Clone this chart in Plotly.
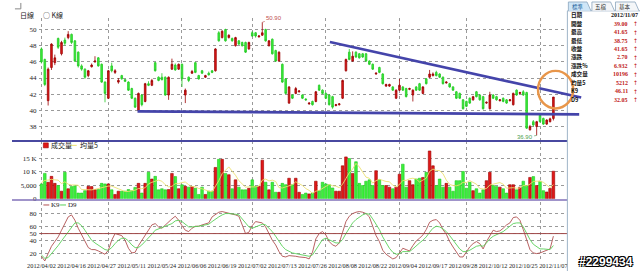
import plotly.graph_objects as go

W, H = 640, 275

# ---------------- data ----------------
date_labels = ["2012/04/02", "2012/04/16", "2012/04/27", "2012/05/11", "2012/05/24", "2012/06/06",
               "2012/06/19", "2012/07/02", "2012/07/13", "2012/07/26", "2012/08/08", "2012/08/22",
               "2012/09/04", "2012/09/17", "2012/09/28", "2012/10/12", "2012/10/25", "2012/11/07"]
label_pos = [0, 9, 18, 27, 36, 45, 54, 63, 72, 81, 90, 99, 108, 117, 126, 135, 144, 153]
month_start_pos = [0, 20, 42, 63, 85, 107, 127, 149]

opens = [47.6, 46.3, 41.2, 45.3, 45.9, 48.9, 47.0, 48.7, 49.0, 49.4,
         48.6, 47.2, 45.5, 45.1, 44.3, 45.4, 46.0, 46.5, 45.7, 43.5,
         41.5, 45.5, 44.7, 43.5, 44.3, 43.8, 43.5, 42.7, 41.5, 40.0,
         41.9, 41.1, 43.3, 43.1, 45.9, 44.1, 44.1, 44.1, 41.9, 45.1,
         45.6, 45.1, 45.7, 41.9, 44.1, 44.6, 45.9, 44.3, 44.9, 44.1,
         44.6, 44.9, 44.9, 49.6, 49.0, 50.0, 49.0, 48.9, 48.0, 48.6,
         48.4, 48.4, 47.6, 49.6, 49.6, 49.1, 49.3, 50.0, 48.0, 48.8,
         47.4, 46.1, 45.7, 43.9, 40.9, 41.9, 42.1, 42.3, 41.9, 41.4,
         40.8, 41.1, 41.1, 43.1, 42.5, 42.1, 41.9, 41.7, 40.6, 40.7,
         41.5, 44.9, 47.2, 46.1, 47.2, 47.0, 47.0, 47.0, 46.1, 45.7,
         44.5, 45.3, 44.5, 43.0, 43.0, 42.9, 41.5, 42.5, 42.9, 42.7,
         42.6, 41.9, 42.9, 43.3, 42.1, 43.9, 44.1, 44.3, 44.7, 44.5,
         44.1, 43.4, 43.3, 42.9, 42.3, 42.1, 41.3, 41.1, 41.5, 41.3,
         42.3, 41.9, 41.7, 40.9, 40.2, 41.9, 41.7, 41.2, 41.5, 41.3,
         41.2, 40.7, 42.5, 42.1, 42.3, 42.2, 37.6, 38.6, 38.0, 39.4,
         39.0, 38.3, 38.6, 39.0]
closes = [46.0, 43.2, 45.1, 48.2, 46.5, 47.8, 48.4, 48.3, 49.4, 48.4,
          46.1, 45.5, 45.1, 44.1, 44.9, 45.6, 46.1, 45.5, 43.5, 42.1,
          44.9, 44.9, 44.9, 43.7, 43.9, 43.6, 42.5, 41.5, 40.4, 42.1,
          40.7, 43.3, 43.1, 43.7, 44.9, 43.7, 43.8, 41.9, 44.1, 45.7,
          45.0, 45.7, 43.9, 42.5, 43.7, 44.8, 44.7, 43.9, 44.6, 44.3,
          44.4, 44.7, 47.6, 48.6, 49.8, 48.6, 49.3, 48.6, 49.0, 48.2,
          48.0, 47.2, 48.4, 49.2, 49.2, 49.2, 49.6, 48.6, 48.6, 47.0,
          46.1, 47.2, 43.5, 42.1, 42.9, 41.5, 42.7, 42.4, 41.5, 41.3,
          40.9, 40.7, 42.3, 42.5, 42.1, 41.5, 40.7, 40.4, 40.7, 40.8,
          43.7, 46.3, 46.3, 46.7, 46.6, 46.5, 46.6, 46.1, 45.7, 45.1,
          44.6, 44.7, 43.3, 43.2, 43.2, 42.5, 42.5, 43.1, 42.5, 41.7,
          42.7, 42.5, 42.5, 42.5, 42.9, 43.3, 44.5, 44.5, 44.3, 44.1,
          43.3, 43.5, 42.9, 42.5, 41.5, 41.5, 40.2, 40.5, 40.9, 41.7,
          41.7, 41.3, 40.2, 41.0, 41.9, 41.5, 41.3, 41.3, 41.1, 40.9,
          41.3, 42.1, 41.9, 42.2, 41.9, 37.8, 38.0, 38.2, 38.6, 38.6,
          38.3, 38.8, 38.95, 41.65]
highs = [47.8, 46.4, 45.3, 48.3, 46.9, 49.0, 48.6, 49.0, 49.8, 49.5,
         48.7, 47.3, 45.7, 45.2, 45.0, 45.8, 46.7, 46.6, 45.8, 43.6,
         45.0, 45.9, 45.1, 44.0, 44.4, 43.9, 43.6, 42.8, 41.6, 42.2,
         42.0, 43.4, 43.6, 43.9, 46.0, 44.2, 44.6, 44.2, 44.2, 46.4,
         45.8, 45.8, 45.8, 42.7, 44.2, 45.0, 46.0, 44.4, 45.0, 44.4,
         44.8, 45.0, 47.7, 49.8, 49.9, 50.1, 49.4, 49.0, 49.1, 48.7,
         48.5, 48.5, 48.5, 49.8, 49.7, 49.3, 50.9, 50.1, 48.7, 48.9,
         47.5, 47.3, 45.8, 44.0, 43.0, 42.0, 42.9, 42.5, 42.0, 41.5,
         41.0, 41.2, 42.4, 43.2, 42.6, 42.2, 42.0, 41.8, 40.8, 40.9,
         43.8, 46.4, 47.6, 47.3, 47.3, 47.1, 47.1, 47.1, 46.2, 45.8,
         44.7, 45.4, 44.6, 43.3, 43.3, 43.0, 42.6, 43.9, 43.0, 42.8,
         42.8, 42.6, 43.0, 43.4, 43.0, 44.0, 45.0, 44.7, 44.9, 44.6,
         44.2, 43.6, 43.4, 43.0, 42.4, 42.2, 41.4, 41.2, 41.6, 41.8,
         42.4, 42.0, 41.8, 41.1, 42.3, 42.0, 41.8, 41.4, 41.6, 41.4,
         41.4, 42.2, 42.6, 42.3, 42.5, 42.3, 38.2, 38.8, 38.7, 39.5,
         39.1, 38.9, 39.1, 41.65]
lows = [45.8, 43.0, 40.6, 45.0, 45.6, 47.6, 46.8, 48.0, 48.8, 48.2,
        46.0, 45.3, 44.9, 43.9, 44.1, 45.3, 45.9, 45.4, 43.4, 41.0,
        41.4, 44.7, 44.5, 43.3, 43.8, 43.5, 42.4, 41.4, 40.3, 39.9,
        40.5, 41.0, 43.0, 43.0, 44.8, 43.6, 43.7, 41.8, 41.3, 45.0,
        44.9, 45.0, 42.9, 40.9, 43.5, 44.5, 44.6, 43.8, 44.5, 44.0,
        44.3, 44.6, 44.8, 48.5, 48.9, 48.5, 48.9, 48.5, 47.9, 48.1,
        47.9, 47.1, 47.5, 49.1, 49.0, 49.0, 49.2, 48.5, 47.9, 46.9,
        46.0, 46.0, 43.4, 42.0, 40.8, 41.4, 42.0, 42.2, 41.4, 41.2,
        40.7, 40.6, 41.0, 42.4, 42.0, 41.4, 40.6, 40.2, 40.5, 40.6,
        41.4, 44.8, 46.2, 46.0, 46.5, 46.4, 46.5, 46.0, 45.6, 45.0,
        44.4, 44.6, 43.2, 42.9, 42.9, 42.4, 41.4, 42.4, 42.4, 41.6,
        42.5, 41.1, 42.4, 42.4, 42.0, 43.2, 44.0, 44.2, 44.2, 44.0,
        43.2, 43.3, 42.8, 42.4, 41.4, 41.4, 40.1, 40.4, 40.8, 41.2,
        41.6, 41.2, 40.1, 40.8, 40.1, 41.4, 41.2, 41.1, 41.0, 40.8,
        41.1, 40.6, 41.8, 42.0, 41.8, 37.7, 37.5, 38.0, 36.9, 38.5,
        38.2, 38.2, 38.5, 38.75]
volume = [5500, 9400, 6100, 8300, 5700, 4900, 2800, 9800, 3700, 4500,
          4800, 2100, 2100, 3000, 4600, 4500, 3400, 3400, 5700, 5500,
          5500, 3300, 1600, 2800, 2800, 2800, 3400, 3000, 4200, 5700,
          2100, 5700, 9800, 7300, 8300, 3300, 3700, 3300, 3400, 9400,
          8200, 3700, 5200, 4600, 4300, 4500, 3900, 1600, 4300, 1600,
          2800, 2800, 11600, 14600, 14600, 9400, 8900, 3700, 7000, 4300,
          3300, 3300, 3900, 7000, 4600, 4600, 14300, 6100, 3300, 6100,
          2400, 2400, 5700, 5200, 7600, 5200, 7600, 2400, 1600, 2100,
          1800, 2100, 6500, 3000, 6100, 5500, 5200, 4000, 2800, 2800,
          12200, 15500, 14900, 9400, 13700, 5700, 4900, 6500, 7000, 4900,
          10400, 7000, 4900, 4900, 4300, 3700, 4300, 9100, 12800, 4300,
          6700, 5200, 7300, 7600, 7900, 9800, 17700, 12200, 4900, 7300,
          4300, 5700, 4300, 2800, 6700, 6700, 10100, 3900, 6100, 3000,
          3700, 2100, 3300, 6700, 9800, 4900, 4500, 4300, 3700, 2100,
          5200, 5200, 3300, 4300, 6500, 4900, 7900, 8200, 4900, 6500,
          3000, 2500, 3800, 10196]
vol_ma5 = [6000, 6800, 6900, 7200, 7000, 6900, 5600, 6300, 5400, 5100,
           5100, 5000, 3400, 3300, 3300, 3300, 3500, 3800, 4300, 4500,
           4700, 4700, 4300, 3700, 3200, 2700, 2700, 3000, 3200, 3800,
           3700, 4100, 5500, 6100, 6600, 6900, 6500, 5200, 4400, 4600,
           5600, 5600, 6000, 6200, 5200, 4500, 4500, 3800, 3700, 3200,
           2800, 2600, 4600, 6700, 9300, 10600, 11800, 10200, 8700, 6700,
           5400, 4300, 4400, 4400, 4400, 4700, 6900, 7300, 6600, 6900,
           6400, 4100, 4000, 4400, 4700, 5200, 6300, 5600, 4900, 3800,
           3100, 2000, 2800, 3100, 3900, 4600, 5300, 4800, 4700, 4100,
           5400, 7500, 9600, 11000, 13100, 11800, 9700, 8000, 7600, 5800,
           6700, 7200, 6800, 6400, 6300, 5000, 4400, 5300, 6800, 6800,
           7400, 7600, 7300, 6200, 6900, 7600, 10100, 11000, 10500, 10400,
           9300, 6900, 5300, 4900, 4800, 5200, 6100, 6000, 6700, 6000,
           5400, 3800, 3600, 3800, 5100, 5400, 5800, 6000, 5400, 3900,
           4000, 4100, 3900, 4000, 4900, 4800, 5400, 6400, 6500, 6500,
           6100, 5000, 4100, 5212]
k9 = [16, 9, 20, 31, 38, 45, 55, 65, 75, 78,
      70, 58, 48, 37, 29, 26, 26, 24, 21, 19,
      25, 40, 50, 49, 47, 40, 28, 21, 22, 32,
      40, 48, 55, 63, 65, 60, 58, 63, 68, 72,
      76, 70, 62, 55, 53, 58, 61, 61, 63, 65,
      66, 75, 79, 82, 83, 82, 81, 80, 78, 76,
      62, 50, 52, 62, 68, 67, 66, 60, 50, 40,
      33, 23, 16, 15, 17, 17, 16, 15, 15, 14,
      12, 22, 42, 50, 53, 48, 38, 33, 31, 36,
      52, 68, 76, 80, 82, 83, 82, 80, 75, 60,
      47, 38, 25, 19, 16, 12, 14, 21, 28, 26,
      24, 32, 39, 43, 48, 56, 67, 70, 71, 66,
      56, 49, 38, 30, 22, 15, 15, 22, 30, 35,
      38, 35, 27, 38, 47, 55, 53, 54, 58, 63,
      66, 74, 75, 70, 56, 40, 26, 21, 20, 21,
      23, 25, 27, 46.11]
d9 = [18, 13, 14, 20, 25, 32, 39, 46, 53, 60,
      66, 66, 62, 55, 47, 40, 36, 33, 29, 26,
      25, 29, 35, 40, 43, 43, 39, 33, 29, 29,
      33, 38, 43, 49, 55, 57, 58, 60, 62, 65,
      69, 70, 68, 64, 60, 60, 60, 61, 62, 63,
      64, 68, 72, 75, 78, 80, 80, 80, 79, 78,
      72, 65, 60, 58, 60, 62, 64, 63, 58, 53,
      46, 38, 31, 26, 23, 21, 20, 19, 18, 17,
      16, 18, 26, 34, 41, 43, 41, 38, 36, 36,
      41, 50, 59, 66, 71, 75, 78, 80, 79, 72,
      64, 56, 45, 36, 28, 22, 19, 20, 23, 23,
      23, 27, 32, 36, 40, 45, 52, 58, 61, 60,
      57, 53, 47, 40, 33, 27, 23, 23, 25, 28,
      31, 32, 31, 36, 42, 46, 48, 50, 53, 57,
      61, 65, 66, 66, 60, 50, 41, 34, 30, 27,
      27, 26, 26, 32.05]

# hand-drawn marks (data coordinates: bar index, price)
resistance_line = [(86.2, 48.45), (161.3, 41.59)]
support_line = [(28.7, 39.88), (160.7, 39.51)]
circle_box = [(148.4, 44.88), (158.9, 40.24)]

panel_labels = ["日期", "開盤", "最高", "最低", "收盤", "漲跌", "漲跌%", "成交量", "均量5", "K9", "D9"]
panel_values = ["2012/11/07", "39.00", "41.65", "38.75", "41.65", "2.70", "6.932", "10196", "5212", "46.11", "32.05"]
tab_names = ["標準", "五檔", "基本"]

# ---------------- layout geometry (pixels) ----------------
PL, PR = 28, 566
X_RANGE = [-0.587, 157.18]
PRICE_PX, PRICE_RANGE = (18, 143), [36.22, 51.46]
VOL_PX, VOL_RANGE = (143, 201.7), [0, 21420]
KD_PX, KD_RANGE = (205, 265), [8.7, 97.3]


def xp(p):
    return p / W


def yp(p):
    return 1 - p / H


def dom_y(px):
    return [yp(px[1]), yp(px[0])]


def price_to_paper(i, v):
    px = PL + (i - X_RANGE[0]) / (X_RANGE[1] - X_RANGE[0]) * (PR - PL)
    py = PRICE_PX[0] + (PRICE_RANGE[1] - v) / (PRICE_RANGE[1] - PRICE_RANGE[0]) * (PRICE_PX[1] - PRICE_PX[0])
    return xp(px), yp(py)


idx = list(range(len(closes)))
RED, RED_EDGE = "#e01818", "#9a0000"
GRN, GRN_EDGE = "#3cf03c", "#22c822"
up = [c >= o for o, c in zip(opens, closes)]

fig = go.Figure()
fig.add_trace(go.Candlestick(
    x=idx, open=opens, high=highs, low=lows, close=closes,
    increasing=dict(line=dict(color=RED_EDGE, width=0.8), fillcolor=RED),
    decreasing=dict(line=dict(color=GRN_EDGE, width=0.8), fillcolor=GRN),
    whiskerwidth=0, xaxis="x", yaxis="y", hoverinfo="skip", showlegend=False))

fig.add_trace(go.Bar(
    x=idx, y=volume, width=0.78,
    marker=dict(color=[RED if u else GRN for u in up],
                line=dict(color=[RED_EDGE if u else GRN_EDGE for u in up], width=0.6)),
    xaxis="x2", yaxis="y2", showlegend=False, hoverinfo="skip"))
fig.add_trace(go.Scatter(x=idx, y=vol_ma5, mode="lines", line=dict(color="#ece070", width=0.9),
                         xaxis="x2", yaxis="y2", showlegend=False, hoverinfo="skip"))

fig.add_trace(go.Scatter(x=idx, y=k9, mode="lines", line=dict(color="#b05050", width=0.9),
                         xaxis="x3", yaxis="y3", showlegend=False, hoverinfo="skip"))
fig.add_trace(go.Scatter(x=idx, y=d9, mode="lines", line=dict(color="#58d058", width=0.9),
                         xaxis="x3", yaxis="y3", showlegend=False, hoverinfo="skip"))

tickfont = dict(family="Liberation Serif", size=7, color="#222")
GRID = "#9a9a9a"
xcommon = dict(domain=[xp(PL), xp(PR)], range=X_RANGE, showgrid=False, zeroline=False,
               showline=False, ticks="", fixedrange=True,
               minor=dict(tickvals=month_start_pos, showgrid=True, gridcolor=GRID,
                          griddash="dot", gridwidth=0.8, ticks=""))
ycommon = dict(showgrid=True, gridcolor=GRID, griddash="dot", gridwidth=0.8, zeroline=False,
               showline=False, ticks="", tickfont=tickfont, ticklabelstandoff=2, fixedrange=True)

fig.update_layout(
    width=W, height=H, margin=dict(l=0, r=0, t=0, b=0),
    paper_bgcolor="white", plot_bgcolor="white",
    xaxis=dict(xcommon, anchor="y", showticklabels=False, rangeslider=dict(visible=False)),
    xaxis2=dict(xcommon, anchor="y2", showticklabels=False, matches="x"),
    xaxis3=dict(xcommon, anchor="y3", matches="x", tickmode="array", tickvals=label_pos,
                ticktext=date_labels, tickangle=0,
                tickfont=dict(family="Liberation Serif", size=6.3, color="#222"),
                ticklabelstandoff=0),
    yaxis=dict(ycommon, domain=dom_y(PRICE_PX), range=PRICE_RANGE, anchor="x",
               tickmode="array", tickvals=[38, 40, 42, 44, 46, 48, 50]),
    yaxis2=dict(ycommon, domain=dom_y(VOL_PX), range=VOL_RANGE, anchor="x2",
                tickmode="array", tickvals=[0, 5000, 10000, 15000],
                ticktext=["0", "5,000", "10 K", "15 K"]),
    yaxis3=dict(ycommon, domain=dom_y(KD_PX), range=KD_RANGE, anchor="x3",
                tickmode="array", tickvals=[20, 40, 50, 60, 80]),
    font=dict(family="Liberation Serif", size=7, color="#222"),
)

shapes = []
# KD 50 line
shapes.append(dict(type="line", xref="x3", yref="y3", x0=X_RANGE[0], x1=X_RANGE[1], y0=50, y1=50,
                   line=dict(color="#a04848", width=1)))
# panel separators
shapes.append(dict(type="line", xref="paper", yref="paper", x0=0, x1=xp(PR), y0=yp(143), y1=yp(143),
                   line=dict(color="#4848a0", width=2)))
shapes.append(dict(type="line", xref="paper", yref="paper", x0=0, x1=xp(PR), y0=yp(203), y1=yp(203),
                   line=dict(color="#8070b8", width=1.5)))
# right info panel border
shapes.append(dict(type="line", xref="paper", yref="paper", x0=xp(566), x1=xp(566), y0=0, y1=yp(11),
                   line=dict(color="#9fb4c8", width=1)))
shapes.append(dict(type="line", xref="paper", yref="paper", x0=xp(566), x1=1, y0=yp(11), y1=yp(11),
                   line=dict(color="#9fb4c8", width=1)))
# tabs
tab_x = [(567, 590), (591, 614), (615, 639)]
for k, (a, b) in enumerate(tab_x):
    shapes.append(dict(type="path",
                       path=f"M {xp(a)},{yp(11)} L {xp(a)},{yp(2)} L {xp(b-4)},{yp(2)} L {xp(b)},{yp(11)}",
                       xref="paper", yref="paper",
                       fillcolor="#cfe6f7" if k == 0 else "#f4f6f8",
                       line=dict(color="#8aa4bc", width=0.8)))
# tiny icon top-left
shapes.append(dict(type="path", path=f"M {xp(3)},{yp(9)} L {xp(9)},{yp(9)} L {xp(9)},{yp(3)}",
                   xref="paper", yref="paper", line=dict(color="#888", width=1)))
# drawn trend lines and circle (converted to paper coords so they can run past the plot edge)
for line_pts in (resistance_line, support_line):
    (x0, y0), (x1, y1) = [price_to_paper(*p) for p in line_pts]
    shapes.append(dict(type="line", xref="paper", yref="paper", x0=x0, y0=y0, x1=x1, y1=y1,
                       line=dict(color="#4444aa", width=2.6)))
(cx0, cy0), (cx1, cy1) = [price_to_paper(*p) for p in circle_box]
shapes.append(dict(type="circle", xref="paper", yref="paper", x0=cx0, y0=cy1, x1=cx1, y1=cy0,
                   line=dict(color="#e8964a", width=2.4)))
# legend swatches
shapes.append(dict(type="rect", xref="paper", yref="paper", x0=xp(32), x1=xp(37), y0=yp(150), y1=yp(145),
                   fillcolor=RED, line=dict(color=RED_EDGE, width=0.6)))
shapes.append(dict(type="line", xref="paper", yref="paper", x0=xp(59), x1=xp(66), y0=yp(147.5), y1=yp(147.5),
                   line=dict(color="#ece070", width=1)))
shapes.append(dict(type="line", xref="paper", yref="paper", x0=xp(32), x1=xp(38), y0=yp(208), y1=yp(208),
                   line=dict(color="#b05050", width=1)))
shapes.append(dict(type="line", xref="paper", yref="paper", x0=xp(49), x1=xp(55), y0=yp(208), y1=yp(208),
                   line=dict(color="#58d058", width=1)))
fig.update_layout(shapes=shapes)

ann = []
cjk = "Noto Sans CJK TC"


def txt(x, y, s, size=7, color="#222", xanchor="left", family=cjk, bold=False):
    ann.append(dict(x=xp(x), y=yp(y), xref="paper", yref="paper", text=(f"<b>{s}</b>" if bold else s),
                    showarrow=False, xanchor=xanchor, yanchor="middle", borderpad=0,
                    font=dict(family=family, size=size, color=color)))


txt(7, 15, "日線", size=7)
txt(31, 15, "○ K線", size=7)
txt(39, 147.5, "成交量", size=7)
txt(68, 147.5, "均量5", size=7)
txt(39, 208, "K9", size=7, family="Liberation Serif")
txt(56, 208, "D9", size=7, family="Liberation Serif")

# max / min price annotations
hi_i = highs.index(max(highs))
lo_i = lows.index(min(lows))
ann.append(dict(x=hi_i, y=highs[hi_i], xref="x", yref="y", text=f"{highs[hi_i]:.2f}", showarrow=True,
                arrowhead=0, arrowwidth=0.7, arrowcolor="#c06060", ax=12, ay=-4, standoff=0,
                font=dict(family="Liberation Sans", size=6, color="#c05050")))
ann.append(dict(x=lo_i, y=lows[lo_i], xref="x", yref="y", text=f"{lows[lo_i]:.2f}", showarrow=True,
                arrowhead=0, arrowwidth=0.7, arrowcolor="#60a060", ax=-12, ay=2, standoff=0,
                font=dict(family="Liberation Sans", size=6, color="#50a050")))

# info panel
for k, name in enumerate(tab_names):
    a, b = tab_x[k]
    txt((a + b - 4) / 2, 6.8, name, size=5.5, color="#1a5a9a" if k == 0 else "#333", xanchor="center")
for r, (lab, val) in enumerate(zip(panel_labels, panel_values)):
    y = 15.5 + 8.55 * r
    txt(569, y, lab, size=5.6, color="#111", bold=True)
    txt(629 if r else 639, y, val, size=6, color="#111" if r == 0 else "#c01818",
        xanchor="right", family="Liberation Serif", bold=True)
    if r:
        txt(635, y, "↑", size=6, color="#c01818", xanchor="center", family="DejaVu Sans")

# watermark
ann.append(dict(x=xp(605), y=yp(266), xref="paper", yref="paper", text="<b>#2299434</b>", showarrow=False,
                xanchor="center", yanchor="middle",
                font=dict(family="Liberation Sans", size=12, color="white",
                          shadow="-1px -1px 0 #000, 1px -1px 0 #000, -1px 1px 0 #000, 1px 1px 0 #000")))
fig.update_layout(annotations=ann)

fig.write_html("out.html")
